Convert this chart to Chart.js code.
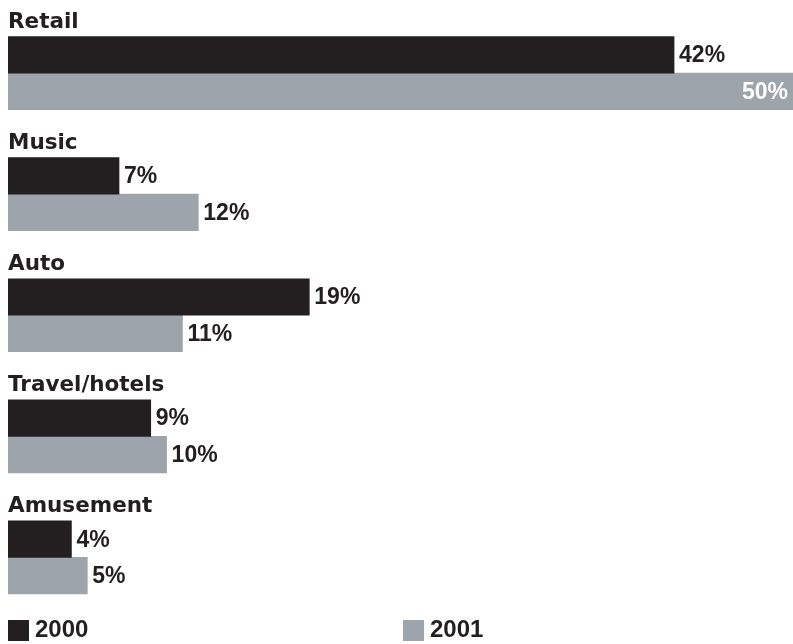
<!DOCTYPE html>
<html>
<head>
<meta charset="utf-8">
<title>Share by category, 2000 vs 2001</title>
<script src="https://cdn.jsdelivr.net/npm/chart.js@4.4.1/dist/chart.umd.min.js"></script>
<style>
  html, body { margin: 0; padding: 0; background: #fff; }
  #wrap { position: relative; width: 793px; height: 644px; }
</style>
</head>
<body>
<div id="wrap"><canvas id="shareChart"></canvas></div>
<script>
// ========== SHARE BY CATEGORY — grouped horizontal bars ==========
var categories = ['Retail', 'Music', 'Auto', 'Travel/hotels', 'Amusement'];
var years = ['2000', '2001'];
var share2000 = [42, 7, 19, 9, 4];
var share2001 = [50, 12, 11, 10, 5];

var INK = '#231f20';
var GREY = '#9da4ab';
var LABEL_FONT = 'bold 21.5px "DejaVu Sans", sans-serif';
var VALUE_FONT = 'bold 23px "Liberation Sans", Arial, sans-serif';
var LEGEND_FONT = 'bold 24px "Liberation Sans", Arial, sans-serif';

// category name sits just above each pair of bars
var categoryLabels = {
    id: 'categoryLabels',
    afterDatasetsDraw: function(chart) {
        var ctx = chart.ctx;
        var meta = chart.getDatasetMeta(0);
        ctx.save();
        ctx.font = LABEL_FONT;
        ctx.fillStyle = INK;
        ctx.textAlign = 'left';
        ctx.textBaseline = 'alphabetic';
        meta.data.forEach(function(bar, i) {
            var top = bar.y - bar.height / 2;
            ctx.fillText(categories[i], chart.chartArea.left, top - 9);
        });
        ctx.restore();
    }
};

// percent at the end of each bar; inside in white when it would run off the edge
var valueLabels = {
    id: 'valueLabels',
    afterDatasetsDraw: function(chart) {
        var ctx = chart.ctx;
        var right = chart.chartArea.right;
        ctx.save();
        ctx.font = VALUE_FONT;
        ctx.textBaseline = 'middle';
        chart.data.datasets.forEach(function(ds, d) {
            chart.getDatasetMeta(d).data.forEach(function(bar, i) {
                var txt = ds.data[i] + '%';
                var w = ctx.measureText(txt).width;
                if (bar.x + 5 + w > right) {
                    ctx.fillStyle = '#fff';
                    ctx.textAlign = 'right';
                    ctx.fillText(txt, Math.min(bar.x, right) - 5, bar.y + 1);
                } else {
                    ctx.fillStyle = INK;
                    ctx.textAlign = 'left';
                    ctx.fillText(txt, bar.x + 5, bar.y + 1);
                }
            });
        });
        ctx.restore();
    }
};

// two-item key along the bottom edge
var yearKey = {
    id: 'yearKey',
    afterDraw: function(chart) {
        var ctx = chart.ctx;
        var y = chart.height - 24;
        ctx.save();
        ctx.font = LEGEND_FONT;
        ctx.textBaseline = 'middle';
        ctx.textAlign = 'left';
        chart.data.datasets.forEach(function(ds, d) {
            var x = 8 + d * 395;
            ctx.fillStyle = ds.backgroundColor;
            ctx.fillRect(x, y, 21, 21);
            ctx.fillStyle = INK;
            ctx.fillText(ds.label, x + 27, y + 10.5);
        });
        ctx.restore();
    }
};

new Chart(document.getElementById('shareChart').getContext('2d'), {
    type: 'bar',
    data: {
        labels: categories,
        datasets: [
            { label: years[0], data: share2000, backgroundColor: INK, borderWidth: 0 },
            { label: years[1], data: share2001, backgroundColor: GREY, borderWidth: 0 }
        ]
    },
    options: {
        indexAxis: 'y',
        responsive: true,
        maintainAspectRatio: false,
        animation: false,
        barThickness: 36.5,
        layout: { padding: { top: 12.5, bottom: 26, left: 8, right: 0 } },
        plugins: {
            legend: { display: false },
            tooltip: { enabled: false }
        },
        scales: {
            x: { display: false, min: 0, max: 49.5 },
            y: { display: false }
        }
    },
    plugins: [categoryLabels, valueLabels, yearKey]
});
</script>
</body>
</html>
